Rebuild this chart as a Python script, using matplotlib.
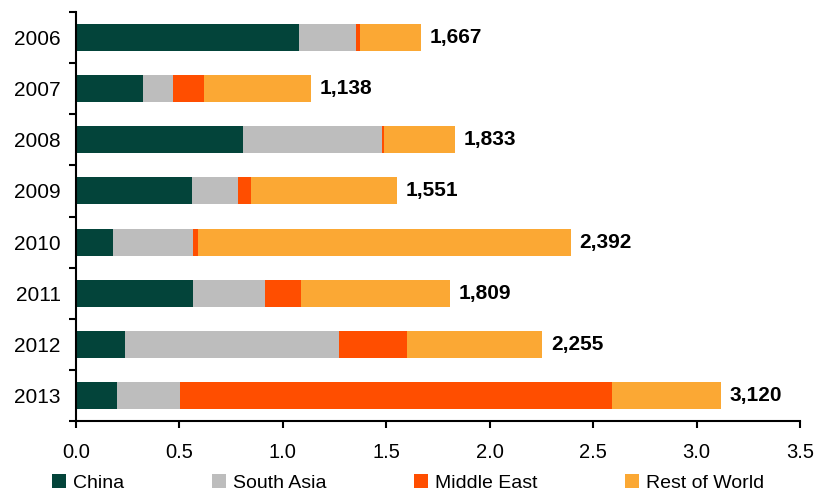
import matplotlib.pyplot as plt
import numpy as np

plt.rcParams['font.family'] = ['Liberation Sans', 'DejaVu Sans']

years = ['2006', '2007', '2008', '2009', '2010', '2011', '2012', '2013']
regions = ['China', 'South Asia', 'Middle East', 'Rest of World']
china = [1.079, 0.323, 0.808, 0.561, 0.179, 0.566, 0.237, 0.198]
south_asia = [0.275, 0.147, 0.673, 0.223, 0.387, 0.349, 1.036, 0.305]
middle_east = [0.021, 0.150, 0.010, 0.063, 0.024, 0.174, 0.329, 2.087]
totals = [1.667, 1.138, 1.833, 1.551, 2.392, 1.809, 2.255, 3.120]
rest_of_world = [t - c - s - m for t, c, s, m in zip(totals, china, south_asia, middle_east)]
colors = ['#03443A', '#BDBDBD', '#FF4E00', '#FBA834']

fig = plt.figure(figsize=(8.18, 4.91), dpi=100)
ax = fig.add_axes([76 / 818, 1 - 421 / 491, 724 / 818, 409 / 491])

y = np.arange(len(years))
left = np.zeros(len(years))
for name, vals, col in zip(regions, [china, south_asia, middle_east, rest_of_world], colors):
    ax.barh(y, vals, left=left, height=0.53, color=col, label=name)
    left += np.array(vals)

# total labels at the end of each bar
for yi, t in zip(y, totals):
    ax.annotate(f'{int(round(t * 1000)):,}', xy=(t, yi), xytext=(6, 0),
                textcoords='offset points', va='center', ha='left',
                fontsize=15, fontweight='bold')

ax.set_xlim(0, 3.5)
ax.set_ylim(7.5, -0.5)
ax.set_xticks(np.arange(0, 3.51, 0.5))
ax.set_xticklabels([f'{v:.1f}' for v in np.arange(0, 3.51, 0.5)])
ax.set_yticks(y)
ax.set_yticklabels(years)
ax.set_yticks(np.arange(-0.5, 8, 1), minor=True)

ax.tick_params(axis='y', which='major', length=0, pad=11, labelsize=15)
ax.tick_params(axis='y', which='minor', length=5, width=1.5, direction='out')
ax.tick_params(axis='x', length=5, width=1.5, direction='out', pad=11, labelsize=14.5)

for side in ['top', 'right']:
    ax.spines[side].set_visible(False)
for side in ['left', 'bottom']:
    ax.spines[side].set_linewidth(1.5)

fig.legend(loc='center left', bbox_to_anchor=(52 / 818, 1 - 483 / 491),
           ncol=4, frameon=False, fontsize=14, borderpad=0, borderaxespad=0,
           handlelength=0.72, handleheight=0.72, handletextpad=0.36,
           columnspacing=4.5)

fig.savefig('out.png', dpi=100)
